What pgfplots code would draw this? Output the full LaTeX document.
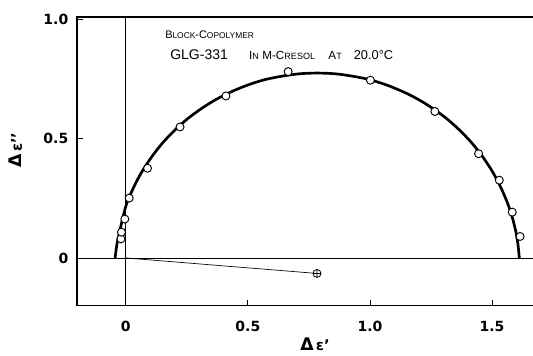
\documentclass[border=0pt]{standalone}
\usepackage{fontspec}
\setmainfont{Liberation Sans}
\newfontfamily\dejavu{DejaVu Sans}
\usepackage{pgfplots}
\pgfplotsset{compat=1.18}
\begin{document}
\begin{tikzpicture}
\path[use as bounding box] (-57.75pt,-37.5pt) rectangle (342pt,229.25pt);
\begin{axis}[
 scale only axis, width=342pt, height=216.5pt,
 xmin=-0.2, xmax=1.668, ymin=-0.2, ymax=1.01,
 axis line style={draw=none},
 xtick={0,0.5,1,1.5}, xticklabels={0,0.5,1.0,1.5},
 ytick={0,0.5,1}, yticklabels={0,0.5,1.0},
 tick align=inside, tick pos=left,
 major tick length=4.5pt,
 tick style={black, line width=0.6pt},
 ticklabel style={font=\dejavu\bfseries\fontsize{10.5}{12}\selectfont},
 xticklabel style={yshift=-8pt},
 yticklabel style={xshift=-3pt},
 /pgf/number format/assume math mode=true,
 clip=false,
]
% frame (open on the right)
\draw[line width=0.8pt] (rel axis cs:1,0) -- (rel axis cs:0,0) -- (rel axis cs:0,1) -- (rel axis cs:1,1);
% reference lines
\addplot[black, line width=0.6pt] coordinates {(-0.2,0) (1.668,0)};
\addplot[black, line width=0.6pt] coordinates {(0,-0.2) (0,1.01)};
% arc
\addplot[black, line width=2pt, smooth] coordinates {
(-0.044,0) (-0.036,0.06) (-0.024,0.117) (-0.011,0.174) (0.004,0.229) (0.032,0.296)
(0.065,0.360) (0.104,0.421) (0.148,0.479) (0.197,0.532) (0.250,0.581) (0.308,0.625)
(0.369,0.664) (0.433,0.697) (0.500,0.725) (0.568,0.747) (0.640,0.762) (0.712,0.772)
(0.784,0.775) (0.856,0.772) (0.928,0.762) (1.000,0.747) (1.068,0.725) (1.135,0.697)
(1.199,0.664) (1.260,0.625) (1.318,0.581) (1.371,0.532) (1.420,0.479) (1.464,0.421)
(1.503,0.360) (1.536,0.296) (1.564,0.229) (1.582,0.174) (1.596,0.118) (1.606,0.060) (1.612,0)
};
% measured points
\addplot[only marks, mark=*, mark size=3pt, mark options={fill=white, draw=black, line width=0.7pt}] coordinates {
(-0.020,0.080) (-0.018,0.108) (-0.004,0.163) (0.014,0.251) (0.089,0.376) (0.222,0.549)
(0.410,0.679) (0.665,0.781) (1.002,0.745) (1.266,0.614) (1.445,0.437) (1.530,0.326)
(1.583,0.192) (1.615,0.090)
};
% infinite-frequency point
\addplot[black, line width=0.5pt, mark=oplus, mark indices={2}, mark size=3pt, mark options={line width=0.6pt}] coordinates {(0,0) (0.783,-0.065)};
% axis labels
\node[rotate=90, anchor=center, inner sep=0pt] at ([xshift=-46pt]rel axis cs:0,0.539)
 {\dejavu\bfseries{\fontsize{13}{15}\selectfont Δ}\,{\fontsize{11}{13}\selectfont ε’’}};
\node[anchor=center, inner sep=0pt] at ([yshift=-29pt]rel axis cs:0.522,0)
 {\dejavu\bfseries{\fontsize{13}{15}\selectfont Δ}\,{\fontsize{11}{13}\selectfont ε’}};
% annotation
\node[anchor=west, inner sep=0pt, font=\fontsize{8.2}{10}\selectfont] at (rel axis cs:0.193,0.938)
 {B{\fontsize{6.3}{8}\selectfont LOCK}-C{\fontsize{6.3}{8}\selectfont OPOLYMER}};
\node[anchor=west, inner sep=0pt] at (rel axis cs:0.204,0.868)
 {{\fontsize{10.5}{13}\selectfont GLG-331}\hspace{16pt}{\fontsize{8.8}{11}\selectfont I{\fontsize{6.8}{9}\selectfont N} M-C{\fontsize{6.8}{9}\selectfont RESOL}\hspace{10pt}A{\fontsize{6.8}{9}\selectfont T}\hspace{9pt}{\fontsize{9.6}{11}\selectfont 20.0°C}}};
\end{axis}
\end{tikzpicture}
\end{document}
